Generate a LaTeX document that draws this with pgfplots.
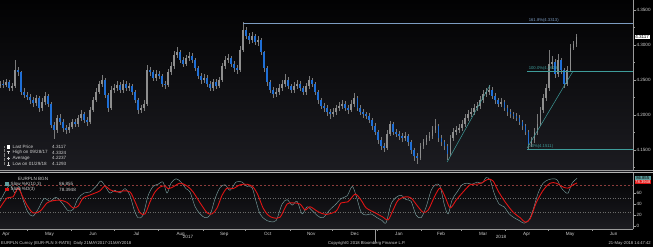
\documentclass[border=0pt]{standalone}
\usepackage{pgfplots}
\pgfplotsset{compat=1.18}
\usepackage{pgfplotstable}
\usepackage{fontspec}
\setmainfont{Liberation Sans}
\definecolor{axgrey}{HTML}{9A9A9A}
\definecolor{txt}{HTML}{D0D0D0}
\definecolor{wick}{HTML}{7A7A7A}
\definecolor{upbody}{HTML}{8E8E8E}
\definecolor{dnbody}{HTML}{1F6FD6}
\definecolor{teal1}{HTML}{3E9C9A}
\definecolor{fibblue}{HTML}{7C9CC2}
\definecolor{kcol}{HTML}{7A9E9E}
\definecolor{dcol}{HTML}{E01414}
\definecolor{bgtop}{HTML}{020203}
\definecolor{bgbot}{HTML}{1C1C21}
\definecolor{rdash}{HTML}{8C3C3C}
\definecolor{gdash}{HTML}{6A6A6A}
\definecolor{kbox}{HTML}{5E9E9E}
\newcommand\sm{\fontsize{4.6}{5}\selectfont}
\newcommand\xs{\fontsize{4.2}{5}\selectfont}

\pgfplotstableread{
d o h l c k
10.8 4.242 4.249 4.238 4.245 0
12.9 4.245 4.250 4.239 4.243 1
15.0 4.243 4.252 4.240 4.247 0
17.1 4.247 4.250 4.234 4.238 1
19.2 4.238 4.246 4.235 4.241 0
21.3 4.241 4.279 4.239 4.264 0
23.4 4.264 4.268 4.256 4.261 1
25.5 4.261 4.263 4.229 4.233 1
27.6 4.233 4.238 4.224 4.229 1
29.7 4.229 4.233 4.221 4.226 1
31.8 4.226 4.230 4.216 4.221 1
34.0 4.221 4.226 4.211 4.217 1
36.0 4.217 4.229 4.213 4.224 0
38.2 4.224 4.227 4.204 4.210 1
40.3 4.210 4.224 4.206 4.219 0
42.4 4.219 4.233 4.215 4.227 0
44.5 4.227 4.230 4.211 4.216 1
46.6 4.216 4.219 4.181 4.186 1
48.7 4.186 4.190 4.166 4.179 1
50.8 4.179 4.200 4.175 4.196 0
52.9 4.196 4.201 4.186 4.190 1
55.0 4.190 4.194 4.176 4.181 1
57.1 4.181 4.186 4.173 4.179 1
59.2 4.179 4.188 4.175 4.183 0
61.3 4.183 4.195 4.180 4.190 0
63.4 4.190 4.194 4.183 4.187 1
65.5 4.187 4.200 4.183 4.196 0
67.6 4.196 4.207 4.192 4.202 0
69.7 4.202 4.205 4.189 4.193 1
71.8 4.193 4.197 4.185 4.190 1
73.9 4.190 4.211 4.187 4.207 0
76.0 4.207 4.226 4.204 4.221 0
78.1 4.221 4.238 4.218 4.233 0
80.2 4.233 4.249 4.230 4.244 0
82.3 4.244 4.257 4.240 4.250 0
84.4 4.250 4.253 4.225 4.229 1
86.5 4.229 4.232 4.205 4.210 1
88.6 4.210 4.241 4.207 4.236 0
90.8 4.236 4.245 4.231 4.239 0
92.9 4.239 4.248 4.235 4.243 0
95.0 4.243 4.247 4.232 4.236 1
97.1 4.236 4.250 4.232 4.244 0
99.2 4.244 4.248 4.234 4.239 1
101.3 4.239 4.246 4.235 4.241 0
103.4 4.241 4.244 4.229 4.233 1
105.5 4.233 4.236 4.217 4.221 1
107.6 4.221 4.224 4.201 4.207 1
109.7 4.207 4.215 4.203 4.210 0
111.8 4.210 4.221 4.206 4.216 0
113.9 4.216 4.271 4.213 4.264 0
116.0 4.264 4.268 4.256 4.261 1
118.1 4.261 4.265 4.248 4.253 1
120.2 4.253 4.264 4.249 4.259 0
122.3 4.259 4.263 4.251 4.256 1
124.4 4.256 4.259 4.240 4.244 1
126.5 4.244 4.249 4.237 4.243 1
128.6 4.243 4.266 4.240 4.261 0
130.7 4.261 4.276 4.257 4.270 0
132.8 4.270 4.291 4.266 4.286 0
134.9 4.286 4.297 4.281 4.290 0
137.0 4.290 4.293 4.275 4.279 1
139.1 4.279 4.283 4.268 4.273 1
141.2 4.273 4.286 4.270 4.281 0
143.3 4.281 4.290 4.277 4.284 0
145.5 4.284 4.288 4.275 4.279 1
147.6 4.279 4.282 4.263 4.267 1
149.7 4.267 4.270 4.251 4.256 1
151.8 4.256 4.260 4.245 4.250 1
153.9 4.250 4.258 4.246 4.253 0
156.0 4.253 4.257 4.240 4.244 1
158.1 4.244 4.248 4.234 4.239 1
160.2 4.239 4.252 4.235 4.247 0
162.3 4.247 4.251 4.237 4.241 1
164.4 4.241 4.255 4.238 4.250 0
166.5 4.250 4.275 4.247 4.270 0
168.6 4.270 4.285 4.266 4.279 0
170.7 4.279 4.287 4.275 4.281 0
172.8 4.281 4.284 4.269 4.273 1
174.9 4.273 4.277 4.262 4.267 1
177.0 4.267 4.271 4.259 4.264 1
179.1 4.264 4.298 4.261 4.293 0
181.2 4.293 4.3324 4.290 4.321 0
183.3 4.321 4.326 4.308 4.313 1
185.4 4.313 4.317 4.302 4.307 1
187.5 4.307 4.319 4.303 4.313 0
189.6 4.313 4.316 4.300 4.304 1
191.7 4.304 4.313 4.299 4.307 0
193.8 4.307 4.310 4.286 4.290 1
195.9 4.290 4.292 4.262 4.267 1
198.0 4.267 4.270 4.241 4.247 1
200.2 4.247 4.250 4.231 4.236 1
202.3 4.236 4.240 4.225 4.230 1
204.4 4.230 4.238 4.226 4.233 0
206.5 4.233 4.244 4.229 4.239 0
208.6 4.239 4.250 4.235 4.244 0
210.7 4.244 4.259 4.240 4.250 0
212.8 4.250 4.254 4.237 4.241 1
214.9 4.241 4.245 4.231 4.236 1
217.0 4.236 4.247 4.232 4.241 0
219.1 4.241 4.250 4.237 4.244 0
221.2 4.244 4.248 4.234 4.239 1
223.3 4.239 4.242 4.228 4.233 1
225.4 4.233 4.246 4.229 4.241 0
227.5 4.241 4.256 4.237 4.250 0
229.6 4.250 4.253 4.240 4.244 1
231.7 4.244 4.247 4.229 4.233 1
233.8 4.233 4.236 4.216 4.221 1
235.9 4.221 4.225 4.208 4.213 1
238.0 4.213 4.217 4.205 4.210 1
240.1 4.210 4.214 4.199 4.204 1
242.2 4.204 4.208 4.195 4.201 1
244.3 4.201 4.210 4.197 4.204 0
246.4 4.204 4.215 4.200 4.210 0
248.5 4.210 4.218 4.206 4.213 0
250.6 4.213 4.221 4.209 4.216 0
252.7 4.216 4.220 4.206 4.210 1
254.8 4.210 4.214 4.202 4.207 1
256.9 4.207 4.221 4.204 4.216 0
259.0 4.216 4.232 4.212 4.224 0
261.2 4.224 4.227 4.206 4.210 1
263.3 4.210 4.214 4.200 4.204 1
265.4 4.204 4.208 4.196 4.201 1
267.5 4.201 4.205 4.194 4.199 1
269.6 4.199 4.203 4.189 4.193 1
271.7 4.193 4.196 4.179 4.184 1
273.8 4.184 4.188 4.171 4.176 1
275.9 4.176 4.179 4.159 4.164 1
278.0 4.164 4.168 4.150 4.156 1
280.1 4.156 4.160 4.147 4.153 1
282.2 4.153 4.178 4.150 4.173 0
284.3 4.173 4.192 4.170 4.187 0
286.4 4.187 4.190 4.172 4.176 1
288.5 4.176 4.180 4.168 4.173 1
290.6 4.173 4.177 4.165 4.170 1
292.7 4.170 4.174 4.162 4.167 1
294.8 4.167 4.176 4.163 4.170 0
296.9 4.170 4.173 4.156 4.161 1
299.0 4.161 4.164 4.145 4.150 1
301.1 4.150 4.153 4.135 4.141 1
303.2 4.141 4.146 4.1293 4.139 1
305.4 4.139 4.160 4.136 4.156 0
307.5 4.156 4.166 4.152 4.161 0
309.6 4.161 4.172 4.157 4.167 0
311.7 4.167 4.176 4.163 4.170 0
313.8 4.170 4.185 4.166 4.179 0
315.9 4.179 4.194 4.175 4.184 0
318.0 4.184 4.187 4.162 4.167 1
320.1 4.167 4.171 4.156 4.161 1
322.2 4.161 4.165 4.150 4.156 1
324.3 4.156 4.159 4.136 4.144 1
326.4 4.144 4.172 4.141 4.167 0
328.5 4.167 4.182 4.163 4.176 0
330.6 4.176 4.185 4.172 4.179 0
332.7 4.179 4.187 4.175 4.181 0
334.8 4.181 4.193 4.177 4.187 0
336.9 4.187 4.201 4.183 4.196 0
339.0 4.196 4.207 4.192 4.201 0
341.1 4.201 4.210 4.197 4.204 0
343.2 4.204 4.216 4.200 4.210 0
345.3 4.210 4.219 4.206 4.213 0
347.4 4.213 4.227 4.209 4.221 0
349.5 4.221 4.236 4.217 4.230 0
351.6 4.230 4.239 4.226 4.233 0
353.7 4.233 4.243 4.229 4.236 0
355.8 4.236 4.240 4.223 4.227 1
357.9 4.227 4.231 4.216 4.221 1
360.0 4.221 4.225 4.211 4.216 1
362.1 4.216 4.224 4.212 4.219 0
364.3 4.219 4.222 4.206 4.210 1
366.4 4.210 4.214 4.199 4.204 1
368.5 4.204 4.208 4.196 4.201 1
370.6 4.201 4.205 4.194 4.199 1
372.7 4.199 4.203 4.191 4.196 1
374.8 4.196 4.200 4.186 4.190 1
376.9 4.190 4.193 4.179 4.184 1
379.0 4.184 4.187 4.171 4.176 1
381.1 4.176 4.179 4.1511 4.159 1
383.2 4.159 4.169 4.155 4.164 0
385.3 4.164 4.181 4.160 4.176 0
387.4 4.176 4.201 4.172 4.187 0
389.5 4.187 4.212 4.184 4.207 0
391.6 4.207 4.230 4.203 4.224 0
393.7 4.224 4.244 4.220 4.238 0
395.8 4.238 4.293 4.235 4.273 0
397.9 4.273 4.284 4.266 4.276 0
400.0 4.276 4.280 4.253 4.259 1
402.1 4.259 4.287 4.255 4.279 0
404.2 4.279 4.282 4.258 4.264 1
406.3 4.264 4.267 4.238 4.244 1
408.4 4.244 4.270 4.241 4.264 0
410.6 4.264 4.301 4.262 4.296 0
412.7 4.296 4.306 4.293 4.301 0
414.8 4.301 4.316 4.297 4.3117 0
}\ohlc

\pgfplotstableread{
d v
10.8 45
14.3 62
17.8 75
21.3 60
24.1 72
26.9 48
30.4 25
33.9 18
37.4 30
41.7 50
45.9 45
50.1 52
54.3 42
58.5 28
62.0 30
65.5 50
69.7 60
73.9 62
78.1 72
81.6 82
85.1 70
87.9 60
91.4 65
95.0 60
98.5 68
102.0 55
104.8 30
107.6 15
111.1 20
114.6 55
118.1 72
121.6 76
125.1 80
127.9 60
130.7 78
134.2 86
137.7 80
141.2 68
144.0 62
147.6 35
151.1 22
154.6 15
158.1 20
161.6 50
165.1 70
168.6 75
172.1 65
176.3 80
180.5 80
184.0 72
187.5 70
190.3 45
193.1 22
196.6 12
200.2 8
204.4 10
208.6 40
212.1 48
215.6 38
219.1 45
222.6 22
226.1 35
229.6 28
233.8 18
237.3 15
242.2 30
246.4 40
249.9 50
254.2 55
257.7 72
260.5 55
264.0 25
267.5 20
271.0 22
275.2 15
278.7 10
281.5 6
285.0 40
288.5 52
292.0 56
295.5 48
299.0 45
302.5 20
306.0 15
309.6 35
313.1 65
316.6 76
319.4 72
322.2 40
325.0 22
327.8 48
331.3 62
334.8 75
338.3 78
341.8 76
345.3 80
348.8 78
351.6 88
354.4 84
357.2 60
360.7 40
364.2 35
367.8 22
371.3 15
374.8 10
378.3 5
381.8 12
384.6 30
388.1 60
391.6 78
395.1 84
398.6 86
401.4 84
404.2 70
407.0 62
409.1 60
411.9 78
415.4 86.855
}\stochK

\pgfplotstableread{
d v
10.8 33
15.7 51
19.9 53
23.4 69
26.2 56
29.7 38
33.9 24
38.9 27
43.8 42
48.0 46
52.9 47
57.8 43
62.0 33
65.5 36
69.0 51
72.5 55
77.4 60
80.9 64
84.4 73
87.9 66
92.9 62
97.1 64
102.0 62
105.5 44
109.0 24
112.5 22
116.0 44
119.5 62
123.0 71
126.5 73
128.6 68
132.1 71
137.0 78
141.9 73
146.2 62
151.1 42
156.0 24
159.5 22
163.0 33
166.5 56
170.0 69
174.2 68
179.1 75
184.0 76
188.2 71
191.7 56
195.2 33
198.7 20
202.3 15
207.2 16
212.1 40
216.3 42
221.2 40
224.7 29
228.2 35
233.8 26
239.4 21
246.4 27
249.9 42
254.8 44
259.8 58
264.0 47
267.5 33
273.8 24
279.4 16
282.9 11
286.4 29
289.9 47
294.8 53
299.0 51
303.9 35
307.5 25
311.0 29
315.9 56
319.4 69
322.9 53
326.4 33
330.6 47
335.5 62
340.4 75
344.6 76
348.1 78
353.0 85
356.5 82
360.0 64
364.9 44
370.6 25
375.5 15
379.0 7
382.5 13
386.7 42
391.6 65
396.5 78
400.7 78
405.6 71
409.1 69
412.6 75
415.4 78.39
}\stochD

\begin{document}
\begin{tikzpicture}
\fill[black] (0,0) rectangle (653pt,247pt);
% ---------------- price panel
\begin{axis}[
  at={(0pt,76pt)}, anchor=south west, scale only axis,
  width=633pt, height=171pt,
  xmin=10.8, xmax=454.6, ymin=4.12, ymax=4.3643,
  axis x line=none, axis y line*=right,
  axis line style={axgrey, line width=0.5pt},
  axis background/.style={top color=bgtop, bottom color=bgbot},
  xtick=\empty,
  ytick={4.15,4.2,4.25,4.3,4.35},
  yticklabels={4.1500,4.2000,4.2500,4.3000,4.3500},
  minor ytick={4.125,4.175,4.225,4.275,4.325},
  tick align=outside, major tick length=2.5pt, minor tick length=1.5pt,
  tick style={axgrey, line width=0.4pt},
  yticklabel style={font=\sm, color=txt, inner sep=0.8pt},
]
% wicks (low to high)
\addplot[forget plot, draw=none, mark=none,
  error bars/.cd, y dir=both, y explicit, error mark=none,
  error bar style={draw=wick, line width=0.5pt}]
  table[x=d, y=c, y error plus expr=\thisrow{h}-\thisrow{c}, y error minus expr=\thisrow{c}-\thisrow{l}] {\ohlc};
% up bodies (open below close): grey
\addplot[forget plot, draw=none, mark=none,
  error bars/.cd, y dir=minus, y explicit, error mark=none,
  error bar style={draw=upbody, line width=1.3pt}]
  table[x=d, y=c, y error minus expr={(1-\thisrow{k})*(\thisrow{c}-\thisrow{o})}] {\ohlc};
% down bodies (open above close): blue
\addplot[forget plot, draw=none, mark=none,
  error bars/.cd, y dir=plus, y explicit, error mark=none,
  error bar style={draw=dnbody, line width=1.3pt}]
  table[x=d, y=c, y error plus expr={\thisrow{k}*(\thisrow{o}-\thisrow{c})}] {\ohlc};
% Fibonacci levels and trend lines
\addplot[fibblue, line width=0.6pt] coordinates {(181.2,4.3313) (454.6,4.3313)};
\addplot[teal1, line width=0.6pt] coordinates {(380.4,4.2628) (454.6,4.2628)};
\addplot[teal1, line width=0.6pt] coordinates {(380.4,4.1511) (454.6,4.1511)};
\addplot[teal1, line width=0.5pt] coordinates {(324.3,4.1329) (354.4,4.2429)};
\addplot[teal1, line width=0.5pt] coordinates {(380.4,4.1529) (412.6,4.2629)};
\node[anchor=south west, inner sep=0.6pt, font=\xs, text=fibblue] at (axis cs:381,4.3313) {161.8\%(4.3313)};
\node[anchor=south west, inner sep=0.6pt, font=\xs, text=teal1] at (axis cs:381,4.2628) {100.0\%(4.2628)};
\node[anchor=south west, inner sep=0.6pt, font=\xs, text=teal1] at (axis cs:380.6,4.1511) {0.0\%(4.1511)};
\end{axis}
% ---------------- stochastic panel
\begin{axis}[
  at={(0pt,18pt)}, anchor=south west, scale only axis,
  width=633pt, height=56pt,
  xmin=10.8, xmax=454.6, ymin=-5.5, ymax=96.5,
  axis x line*=bottom, axis y line*=right,
  axis line style={axgrey, line width=0.5pt},
  axis background/.style={top color=bgtop, bottom color=bgbot},
  xtick={15,45.5,76,106.5,137.5,168,198.5,229,259.5,290.5,320,349.5,380,410.5,441},
  xticklabels={Apr,May,Jun,Jul,Aug,Sep,Oct,Nov,Dec,Jan,Feb,Mar,Apr,May,Jun},
  minor xtick={30,61,91,122,153,183,214,244,275,306,334,365,395,426},
  major x tick style={draw=none},
  ytick={0,20,40,60},
  tick align=outside, major tick length=2.5pt, minor tick length=2pt,
  tick style={axgrey, line width=0.4pt},
  xticklabel style={font=\sm, color=txt, inner sep=0.8pt},
  yticklabel style={font=\sm, color=txt, inner sep=0.8pt},
  /pgf/number format/assume math mode=true,
]
\addplot[rdash, line width=0.5pt, dash pattern=on 2pt off 2pt] coordinates {(10.8,75) (454.6,75)};
\addplot[gdash, line width=0.5pt, dash pattern=on 1pt off 1.5pt] coordinates {(10.8,50) (454.6,50)};
\addplot[gdash, line width=0.5pt, dash pattern=on 1pt off 1.5pt] coordinates {(10.8,25) (454.6,25)};
\addplot[kcol, line width=0.45pt, smooth, mark=none] table[x=d, y=v] {\stochK};
\addplot[dcol, line width=0.9pt, smooth, mark=none] table[x=d, y=v] {\stochD};
\end{axis}
% ---------------- panel separator
\draw[axgrey, line width=0.6pt] (0pt,76.8pt) -- (653pt,76.8pt);
\draw[gray!60, line width=0.5pt] (0pt,74.6pt) -- (653pt,74.6pt);
% ---------------- price legend
\begin{scope}[font=\sm, text=txt]
\draw[gray, densely dotted, line width=0.3pt] (4pt,101pt) -- (4pt,82pt);
\fill[white] (6.5pt,98.5pt) rectangle (9.8pt,101.8pt);
\node[anchor=west, inner sep=0pt] at (12.5pt,100pt) {Last Price};
\node[anchor=west, inner sep=0pt] at (52pt,100pt) {4.3117};
\draw[txt, line width=0.35pt] (6.6pt,96pt) -- (9.6pt,96pt) (8.1pt,96pt) -- (8.1pt,93pt);
\node[anchor=west, inner sep=0pt] at (12.5pt,94.5pt) {High on 09/28/17};
\node[anchor=west, inner sep=0pt] at (52pt,94.5pt) {4.3324};
\draw[txt, line width=0.35pt] (6.6pt,89pt) -- (9.6pt,89pt) (8.1pt,90.5pt) -- (8.1pt,87.5pt);
\node[anchor=west, inner sep=0pt] at (12.5pt,89pt) {Average};
\node[anchor=west, inner sep=0pt] at (52pt,89pt) {4.2237};
\draw[txt, line width=0.35pt] (6.6pt,81.6pt) -- (9.6pt,81.6pt) (8.1pt,81.6pt) -- (8.1pt,84.6pt);
\node[anchor=west, inner sep=0pt] at (12.5pt,83pt) {Low on 01/29/18};
\node[anchor=west, inner sep=0pt] at (52pt,83pt) {4.1293};
% ---------------- stochastic legend
\node[anchor=west, inner sep=0pt] at (18pt,68pt) {EURPLN BGN};
\fill[kbox] (5pt,61.2pt) rectangle (8.6pt,64.8pt);
\node[anchor=west, inner sep=0pt] at (10.5pt,63pt) {Slow \%K(10,3)};
\node[anchor=west, inner sep=0pt] at (59pt,63pt) {86.855};
\fill[dcol] (5pt,55.7pt) rectangle (8.6pt,59.3pt);
\node[anchor=west, inner sep=0pt] at (10.5pt,57.5pt) {Slow \%D(3)};
\node[anchor=west, inner sep=0pt] at (59pt,57.5pt) {78.3948};
\end{scope}
% ---------------- last value boxes
\node[anchor=west, fill=white, text=black, font=\sm, inner sep=0.6pt] at (634.5pt,210pt) {4.3117};
\node[anchor=west, fill=kbox, text=black, font=\xs, inner sep=0.5pt, minimum width=16pt] at (634.5pt,69.3pt) {86.855};
\node[anchor=west, fill=dcol, text=white, font=\xs, inner sep=0.5pt, minimum width=16pt] at (634.5pt,64.6pt) {78.3948};
% ---------------- years and footer
\draw[axgrey, line width=0.4pt] (375pt,17.5pt) -- (375pt,5pt);
\begin{scope}[text=txt]
\node[anchor=center, inner sep=0pt, font=\sm] at (188pt,10pt) {2017};
\node[anchor=center, inner sep=0pt, font=\sm] at (501pt,10pt) {2018};
\node[anchor=west, inner sep=0pt, font=\xs] at (1pt,3.8pt) {EURPLN Curncy (EUR-PLN X-RATE)\ \ Daily 21MAY2017-21MAY2018};
\node[anchor=west, inner sep=0pt, font=\xs] at (328pt,3.8pt) {Copyright© 2018 Bloomberg Finance L.P.};
\node[anchor=east, inner sep=0pt, font=\xs] at (651pt,3.8pt) {21-May-2018 14:47:42};
\end{scope}
\pgfresetboundingbox
\path (0,0) rectangle (653pt,247pt);
\end{tikzpicture}
\end{document}
